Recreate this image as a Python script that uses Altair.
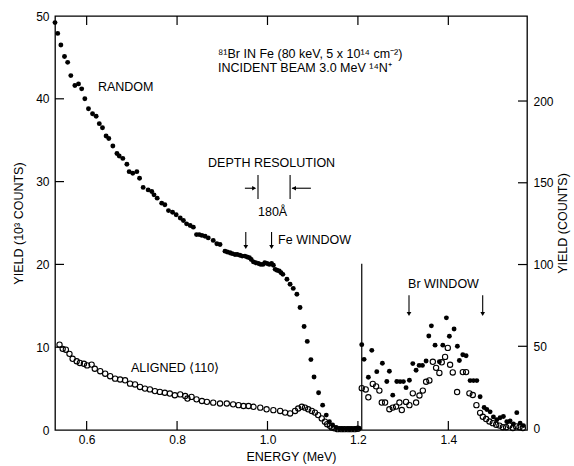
import altair as alt
import pandas as pd

# ---- Fe part of the spectrum: yield in units of 10^3 counts -------------
RANDOM_E = [0.530, 0.536, 0.543, 0.551, 0.558, 0.565, 0.574, 0.582, 0.589, 0.596,
            0.604, 0.613, 0.621, 0.628, 0.635, 0.643, 0.649, 0.658, 0.667, 0.672,
            0.680, 0.689, 0.694, 0.702, 0.711, 0.717, 0.725, 0.736, 0.744, 0.749,
            0.756, 0.766, 0.773, 0.781, 0.790, 0.798, 0.807, 0.814, 0.821, 0.829,
            0.836, 0.843, 0.849, 0.855, 0.862, 0.869, 0.880, 0.888, 0.895, 0.906,
            0.911, 0.917, 0.922, 0.928, 0.933, 0.939, 0.944, 0.950, 0.955, 0.960,
            0.964, 0.969, 0.974, 0.980, 0.985, 0.990, 0.994, 0.999, 1.004, 1.009,
            1.013, 1.017, 1.021, 1.026, 1.030, 1.034, 1.043, 1.050, 1.057, 1.065,
            1.072, 1.081, 1.088, 1.096, 1.103, 1.113, 1.122, 1.130, 1.137, 1.144,
            1.152, 1.159, 1.166, 1.174, 1.181, 1.189, 1.196, 1.203]
RANDOM_K = [49.2, 47.9, 46.5, 45.1, 44.4, 42.8, 41.6, 41.8, 41.2, 40.0,
            38.8, 38.2, 37.9, 37.0, 36.5, 35.5, 35.2, 34.3, 33.4, 33.1,
            32.8, 32.1, 31.2, 31.0, 31.2, 30.4, 29.3, 29.0, 28.8, 28.4,
            28.0, 27.4, 27.2, 26.5, 26.3, 26.0, 25.6, 25.3, 24.9, 24.7,
            24.5, 23.6, 23.6, 23.5, 23.4, 23.2, 22.9, 22.5, 22.4, 21.6,
            21.5, 21.4, 21.3, 21.2, 21.2, 21.1, 21.0, 21.0, 20.9, 20.8,
            20.6, 20.3, 20.2, 20.1, 20.0, 20.0, 20.2, 20.1, 20.0, 20.1,
            19.9, 19.4, 19.3, 19.2, 19.0, 18.8, 18.2, 17.6, 17.1, 16.4,
            14.8, 12.5, 10.7, 8.5, 6.4, 4.5, 3.0, 1.8, 1.0, 0.6,
            0.3, 0.2, 0.15, 0.15, 0.15, 0.15, 0.2, 0.2]

ALIGNED_E = [0.540, 0.547, 0.554, 0.562, 0.569, 0.578, 0.585, 0.594, 0.601, 0.611,
             0.618, 0.630, 0.641, 0.652, 0.663, 0.674, 0.685, 0.696, 0.707, 0.718,
             0.729, 0.740, 0.751, 0.762, 0.773, 0.784, 0.795, 0.807, 0.818, 0.823,
             0.832, 0.843, 0.855, 0.866, 0.880, 0.895, 0.910, 0.924, 0.936, 0.947,
             0.958, 0.969, 0.984, 0.998, 1.013, 1.028, 1.039, 1.050, 1.061, 1.068,
             1.076, 1.083, 1.090, 1.098, 1.105, 1.112, 1.120, 1.127, 1.132, 1.138,
             1.142, 1.148, 1.155, 1.163, 1.170, 1.178, 1.185, 1.193, 1.200]
ALIGNED_K = [10.3, 9.8, 9.7, 9.2, 8.6, 8.3, 8.1, 8.0, 7.8, 7.9,
             7.4, 7.1, 6.8, 6.5, 6.2, 6.1, 6.0, 5.6, 5.5, 5.2,
             5.0, 4.9, 4.7, 4.6, 4.5, 4.4, 4.2, 4.3, 4.1, 3.8,
             4.0, 3.7, 3.5, 3.4, 3.3, 3.2, 3.2, 3.1, 3.0, 2.9,
             2.9, 2.8, 2.7, 2.5, 2.4, 2.3, 2.1, 2.0, 2.3, 2.6,
             2.8, 2.7, 2.5, 2.3, 2.1, 1.8, 1.4, 1.0, 0.7, 0.5,
             0.3, 0.2, 0.1, 0.1, 0.1, 0.1, 0.1, 0.1, 0.15]

# ---- Br part of the spectrum: yield in counts ---------------------------
RANDOM_BR_E = [1.2085, 1.2136, 1.2231, 1.2307, 1.2417, 1.2541, 1.2639, 1.2696, 1.2771, 1.2860,
               1.2933, 1.3006, 1.3065, 1.3139, 1.3214, 1.3287, 1.3354, 1.3427, 1.3508, 1.3568,
               1.3625, 1.3707, 1.3802, 1.3878, 1.3957, 1.4023, 1.4127, 1.4200, 1.4244, 1.4320,
               1.4393, 1.4481, 1.4555, 1.4630, 1.4703, 1.4791, 1.4851, 1.4924, 1.4997, 1.5072,
               1.5145, 1.5218, 1.5293, 1.5366, 1.5440, 1.5514, 1.5588, 1.5661]
RANDOM_BR = [51.0, 42.0, 31.1, 47.5, 34.5, 39.6, 28.5, 34.7, 20.1, 28.5,
             28.4, 28.4, 24.7, 29.2, 39.4, 35.3, 38.3, 38.3, 41.0, 56.3,
             62.5, 50.7, 40.5, 50.7, 67.4, 56.1, 60.6, 50.0, 41.3, 44.8,
             44.2, 29.0, 29.0, 29.0, 19.1, 12.6, 11.3, 9.9, 6.8, 5.1,
             6.3, 7.1, 3.9, 4.4, 2.5, 9.4, 3.0, 1.5]

ALIGNED_BR_E = [1.2085, 1.2173, 1.2231, 1.2329, 1.2402, 1.2475, 1.2528, 1.2601, 1.2696, 1.2771,
                1.2844, 1.2918, 1.2971, 1.3065, 1.3139, 1.3214, 1.3287, 1.3361, 1.3436, 1.3508,
                1.3581, 1.3657, 1.3729, 1.3802, 1.3855, 1.3928, 1.3988, 1.4039, 1.4098, 1.4194,
                1.4320, 1.4393, 1.4466, 1.4541, 1.4621, 1.4703, 1.4763, 1.4836, 1.4909, 1.4984,
                1.5058, 1.5131, 1.5206, 1.5279, 1.5352, 1.5427, 1.5500, 1.5573, 1.5648]
ALIGNED_BR = [24.4, 23.6, 18.8, 27.0, 25.5, 22.9, 15.6, 15.6, 11.5, 12.5,
              13.1, 15.6, 11.0, 16.0, 14.0, 21.2, 15.6, 19.9, 22.9, 28.3,
              29.1, 40.5, 36.8, 33.7, 40.2, 43.5, 49.0, 38.7, 34.0, 22.0,
              34.2, 34.2, 21.2, 20.2, 14.0, 9.3, 6.9, 5.5, 4.0, 3.0,
              2.0, 1.5, 0.5, 0.5, 1.5, 0.0, 1.0, 0.5, 0.0]

X_TICKS = [0.6, 0.8, 1.0, 1.2, 1.4]
LEFT_TICKS = [0, 10, 20, 30, 40, 50]
RIGHT_TICKS = [0, 50, 100, 150, 200]

W, H = 472, 414
FONT = "Liberation Sans"
INK = "black"
TICK = 9

x_enc = alt.X(
    "E:Q",
    scale=alt.Scale(domain=[0.53, 1.574], nice=False, zero=False),
    axis=alt.Axis(values=X_TICKS, format=".1f", ticks=False, domain=False, grid=False,
                  labelPadding=4, title="ENERGY (MeV)", titlePadding=5),
)
x2_field = alt.X2("E2:Q")

left_scale = alt.Scale(domain=[0, 50], nice=False, zero=False)
y_left = alt.Y(
    "v:Q", scale=left_scale,
    axis=alt.Axis(values=LEFT_TICKS, ticks=False, domain=False, grid=False,
                  labelPadding=6, title="YIELD (10³ COUNTS)", titlePadding=10),
)
right_scale = alt.Scale(domain=[-1.2, 252], nice=False, zero=False)
y_right = alt.Y(
    "c:Q", scale=right_scale,
    axis=alt.Axis(orient="right", values=RIGHT_TICKS, ticks=False, domain=False, grid=False,
                  labelPadding=6, title="YIELD (COUNTS)", titlePadding=3,
                  titleAngle=270, titleBaseline="top"),
)

# ---- tables -------------------------------------------------------------
fe_random = pd.DataFrame({"E": RANDOM_E, "v": RANDOM_K})
fe_aligned = pd.DataFrame({"E": ALIGNED_E, "v": ALIGNED_K})
br_random = pd.DataFrame({"E": RANDOM_BR_E, "c": RANDOM_BR})
br_aligned = pd.DataFrame({"E": ALIGNED_BR_E, "c": ALIGNED_BR})

x_ticks_df = pd.DataFrame({"E": X_TICKS})
left_ticks_df = pd.DataFrame({"v": LEFT_TICKS[1:-1]})
right_ticks_df = pd.DataFrame({"c": RIGHT_TICKS[1:]})

left_labels = pd.DataFrame({
    "E": [0.8906, 0.8906, 0.625, 0.8685, 0.979, 1.0234, 0.698],
    "v": [45.4, 43.7, 41.4, 32.3, 26.3, 23.0, 7.5],
    "text": ["⁸¹Br IN Fe (80 keV, 5 x 10¹⁴ cm⁻²)", "INCIDENT BEAM 3.0 MeV ¹⁴N⁺",
             "RANDOM", "DEPTH RESOLUTION", "180Å", "Fe WINDOW", "ALIGNED ⟨110⟩"],
})
# depth-resolution bars, arrow shafts and Fe window arrows
left_segments = pd.DataFrame({
    "E":  [0.979, 1.050, 0.950, 1.054, 0.952, 1.009],
    "E2": [0.979, 1.050, 0.970, 1.096, 0.952, 1.009],
    "v":  [27.9, 27.9, 29.2, 29.2, 22.3, 22.3],
    "v2": [30.8, 30.8, 29.2, 29.2, 23.9, 23.9],
})
left_heads = pd.DataFrame({
    "E": [0.9705, 1.0585, 0.952, 1.009],
    "v": [29.2, 29.2, 22.1, 22.1],
    "shape": ["triangle-right", "triangle-left", "triangle-down", "triangle-down"],
})

br_labels = pd.DataFrame({"E": [1.311], "c": [88.1], "text": ["Br WINDOW"]})
br_segments = pd.DataFrame({"E": [1.313, 1.476], "c": [70.5, 70.5], "c2": [81.2, 81.2]})
br_heads = pd.DataFrame({"E": [1.313, 1.476], "c": [69.8, 69.8]})
divider = pd.DataFrame({"E": [1.2085], "c": [-1.2], "c2": [100.5]})

DOT = dict(size=24, color=INK, opacity=1)
RING = dict(shape="circle", size=28, filled=False, color=INK, strokeWidth=1.1, opacity=1)
TEXT = dict(align="left", baseline="middle", font=FONT, fontSize=12.5, color=INK)

# ---- left (10^3 counts) layer -------------------------------------------
random_pts = alt.Chart(fe_random).mark_circle(**DOT).encode(x=x_enc, y=y_left)
aligned_pts = alt.Chart(fe_aligned).mark_point(**RING).encode(x=x_enc, y=y_left)

top_ticks = alt.Chart(x_ticks_df).mark_rule(color=INK, strokeWidth=1.2).encode(
    x=x_enc, y=alt.value(0), y2=alt.value(TICK))
bottom_ticks = alt.Chart(x_ticks_df).mark_rule(color=INK, strokeWidth=1.2).encode(
    x=x_enc, y=alt.value(H), y2=alt.value(H - TICK))
left_ticks = alt.Chart(left_ticks_df).mark_rule(color=INK, strokeWidth=1.2).encode(
    y=y_left, x=alt.value(0), x2=alt.value(TICK))

left_text = alt.Chart(left_labels).mark_text(**TEXT).encode(x=x_enc, y=y_left, text="text:N")
left_lines = alt.Chart(left_segments).mark_rule(color=INK, strokeWidth=1.1).encode(
    x=x_enc, x2=x2_field, y=y_left, y2="v2:Q")
left_arrowheads = alt.Chart(left_heads).mark_point(
    filled=True, size=22, color=INK, opacity=1
).encode(x=x_enc, y=y_left, shape=alt.Shape("shape:N", scale=None))

left_layer = alt.layer(random_pts, aligned_pts, top_ticks, bottom_ticks, left_ticks,
                       left_text, left_lines, left_arrowheads)

# ---- right (counts) layer -----------------------------------------------
br_random_pts = alt.Chart(br_random).mark_circle(**DOT).encode(x=x_enc, y=y_right)
br_aligned_pts = alt.Chart(br_aligned).mark_point(**RING).encode(x=x_enc, y=y_right)
right_ticks = alt.Chart(right_ticks_df).mark_rule(color=INK, strokeWidth=1.2).encode(
    y=y_right, x=alt.value(W), x2=alt.value(W - TICK))
divider_line = alt.Chart(divider).mark_rule(color=INK, strokeWidth=1.2).encode(
    x=x_enc, y=y_right, y2="c2:Q")
br_text = alt.Chart(br_labels).mark_text(**TEXT).encode(x=x_enc, y=y_right, text="text:N")
br_lines = alt.Chart(br_segments).mark_rule(color=INK, strokeWidth=1.1).encode(
    x=x_enc, y=y_right, y2="c2:Q")
br_arrowheads = alt.Chart(br_heads).mark_point(
    shape="triangle-down", filled=True, size=22, color=INK, opacity=1
).encode(x=x_enc, y=y_right)

right_layer = alt.layer(br_random_pts, br_aligned_pts, right_ticks, divider_line,
                        br_text, br_lines, br_arrowheads)

chart = (
    alt.layer(left_layer, right_layer)
    .resolve_scale(y="independent")
    .properties(
        width=W, height=H,
        autosize=alt.AutoSizeParams(type="none"),
        padding={"left": 55, "top": 16, "right": 47, "bottom": 36},
        background="white",
    )
    .configure_view(stroke=INK, strokeWidth=1.3)
    .configure_axis(
        labelFont=FONT, titleFont=FONT, labelFontSize=12, titleFontSize=12.5,
        labelColor=INK, titleColor=INK, titleFontWeight="normal",
    )
)

chart.save("out.html", embed_options={"renderer": "svg", "actions": False})
